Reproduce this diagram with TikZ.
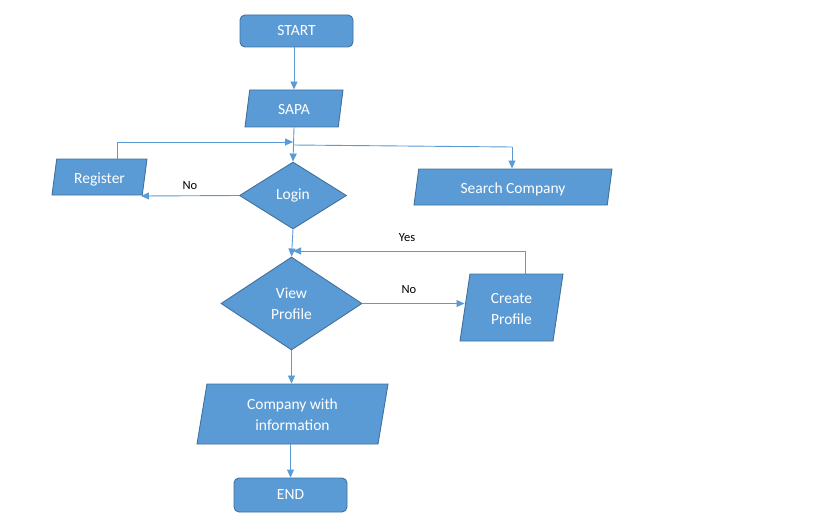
\documentclass[tikz,border=0pt]{standalone}
\usepackage{fontspec}
\setmainfont{Carlito}
\usetikzlibrary{shapes.geometric,arrows.meta,calc}
\definecolor{fillblue}{HTML}{5B9BD5}
\definecolor{edgeblue}{HTML}{41719C}
\definecolor{linkblue}{HTML}{5B9BD5}
\newcommand{\ptx}[1]{\raisebox{-2.5pt}[\height][\depth]{\begin{tabular}{@{}c@{}}#1\end{tabular}}}
\tikzset{
  x=1pt, y=-1pt,
  base/.style={fill=fillblue, draw=edgeblue, line width=0.9pt, text=white, font=\fontsize{15.5}{19}\selectfont, inner sep=0pt, align=center},
  term/.style={base, rectangle, rounded corners=5pt},
  para/.style={base, trapezium, trapezium left angle=76, trapezium right angle=104, trapezium stretches body},
  decide/.style={base, diamond, aspect=1.6},
  arr/.style={draw=linkblue, line width=0.9pt, -{Triangle[length=8pt,width=7pt]}},
  link/.style={draw=linkblue, line width=0.9pt},
  lbl/.style={font=\fontsize{12.5}{15}\selectfont, text=black, inner sep=0pt}
}
\begin{document}
\begin{tikzpicture}
\useasboundingbox (0,0) rectangle (819,524);
\node[term, minimum width=113pt, minimum height=32pt] (start) at (296.5,31) {START};
\node[para, minimum width=98pt, minimum height=37pt] (sapa) at (294,108.5) {\ptx{SAPA}};
\node[para, minimum width=95pt, minimum height=36pt] (reg) at (99.5,177) {\ptx{Register}};
\node[para, minimum width=198pt, minimum height=36pt] (search) at (513,187) {\ptx{Search Company}};
\node[decide, minimum width=107pt, minimum height=67pt] (login) at (293,195.5) {Login};
\node[decide, minimum width=141pt, minimum height=93pt] (view) at (291.5,303.5) {View\\[2pt]Profile};
\node[para, minimum width=103pt, minimum height=67pt] (create) at (511.5,307.5) {\ptx{Create\\[2pt]Profile}};
\node[para, minimum width=191pt, minimum height=60pt] (company) at (292.5,414) {\ptx{Company with\\[2pt]information}};
\node[term, minimum width=113pt, minimum height=34pt] (end) at (290.5,495) {END};

\coordinate (j1) at (293,142);
\coordinate (j2) at (293,145);
\coordinate (sc) at (512,147);
\coordinate (yesin) at (293,251);
\coordinate (regin) at (141,196);

\draw[arr] (start.south -| sapa.north) -- (sapa.north);
\draw[arr] (sapa.south) -- (login.north);
\draw[arr] ([xshift=17.5pt]reg.north) |- (j1);
\draw[link] (j2) -- (sc);
\draw[arr] (sc) -- (sc |- search.north);
\draw[arr] (login.west) -- (regin);
\draw[arr] (login.south) -- (view.north);
\draw[arr] (view.east) -- (view.east -| create.west);
\draw[arr] ([xshift=13.5pt]create.north) |- (yesin);
\draw[arr] (view.south) -- (view.south |- company.north);
\draw[arr] (company.south -| end.north) -- (end.north);

\node[lbl] (no1) at (190,186) {No};
\node[lbl] (no2) at (409,290) {No};
\node[lbl] (yes) at (407,238) {Yes};
\end{tikzpicture}
\end{document}
